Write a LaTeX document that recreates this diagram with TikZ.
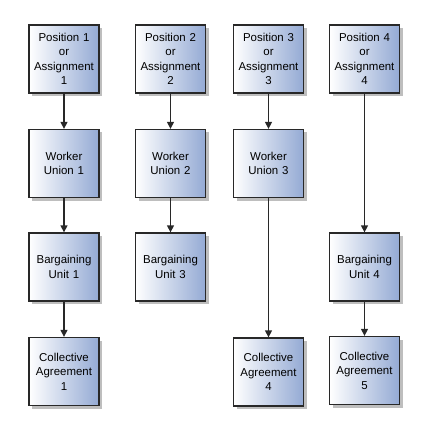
\documentclass[tikz,border=0pt]{standalone}
\usepackage{fontspec}
\setmainfont{Liberation Sans}
\usetikzlibrary{arrows.meta,shadows}
\definecolor{boxblue}{RGB}{148,170,212}
\definecolor{boxedge}{RGB}{40,40,40}
\definecolor{shadowgray}{RGB}{190,190,190}
\begin{document}
\begin{tikzpicture}[x=1bp,y=-1bp,
  box/.style={draw=boxedge, line width=1.3bp, minimum width=70bp, minimum height=68bp,
    inner sep=0pt, align=center, text width=68bp,
    left color=white, right color=boxblue,
    font=\fontsize{11.5}{14.5}\selectfont,
    drop shadow={shadow xshift=3bp, shadow yshift=-3bp, fill=shadowgray, opacity=1}},
  conn/.style={draw=boxedge, line width=1.3bp, -{Triangle[length=7bp,width=7bp]}}]
\useasboundingbox (0,0) rectangle (429,435);
% column centers: 64, 170.5, 268.5, 364.5 ; rows: 59, 163.5, 267, 371.5
\node[box] (p1) at (64,59) {Position 1\\or\\Assignment\\1};
\node[box] (p2) at (170.5,59) {Position 2\\or\\Assignment\\2};
\node[box] (p3) at (268.5,59) {Position 3\\or\\Assignment\\3};
\node[box] (p4) at (364.5,59) {Position 4\\or\\Assignment\\4};
\node[box] (w1) at (64,163.5) {Worker\\Union 1};
\node[box] (w2) at (170.5,163.5) {Worker\\Union 2};
\node[box] (w3) at (268.5,163.5) {Worker\\Union 3};
\node[box] (b1) at (64,267) {Bargaining\\Unit 1};
\node[box] (b3) at (170.5,267) {Bargaining\\Unit 3};
\node[box] (b4) at (364.5,267) {Bargaining\\Unit 4};
\node[box] (c1) at (64,371.5) {Collective\\Agreement\\1};
\node[box] (c4) at (268.5,372) {Collective\\Agreement\\4};
\node[box] (c5) at (364.5,370.5) {Collective\\Agreement\\5};
\draw[conn] (p1) -- (w1);
\draw[conn] (w1) -- (b1);
\draw[conn] (b1) -- (c1);
\draw[conn] (p2) -- (w2);
\draw[conn] (w2) -- (b3);
\draw[conn] (p3) -- (w3);
\draw[conn] (w3) -- (c4);
\draw[conn] (p4) -- (b4);
\draw[conn] (b4) -- (c5);
\end{tikzpicture}
\end{document}
